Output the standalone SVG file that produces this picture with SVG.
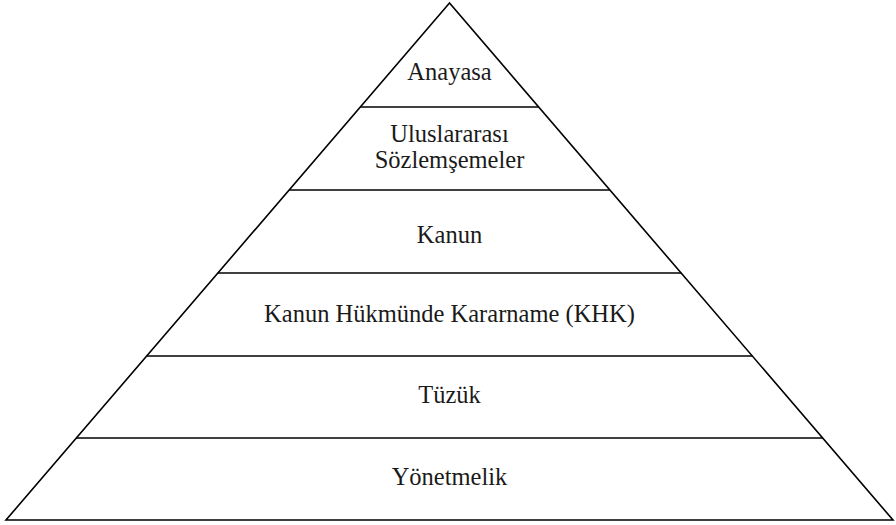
<svg xmlns="http://www.w3.org/2000/svg" width="896" height="525" viewBox="0 0 896 525">
<style>
.ln{stroke:#000;stroke-width:1.6;fill:none}
.t{font-family:'Liberation Serif','Times New Roman',serif;font-size:24.5px;fill:#1a1a1a;text-anchor:middle}
</style>
<rect width="896" height="525" fill="#fff"/>
<g id="connectors">
<polygon class="ln" points="449.5,3 6,520 893,520" stroke-linejoin="miter"/>
<line class="ln" x1="360.4" y1="107" x2="538.6" y2="107"/>
<line class="ln" x1="289.2" y1="190" x2="609.8" y2="190"/>
<line class="ln" x1="217.8" y1="273" x2="681.2" y2="273"/>
<line class="ln" x1="146.6" y1="356" x2="752.4" y2="356"/>
<line class="ln" x1="76.2" y1="438" x2="822.8" y2="438"/>
</g>
<g id="anayasa"><text class="t" x="449.5" y="80">Anayasa</text></g>
<g id="uluslararasi"><text class="t" x="449.5" y="142">Uluslararası</text><text class="t" x="449.5" y="168">Sözlemşemeler</text></g>
<g id="kanun"><text class="t" x="449.5" y="243">Kanun</text></g>
<g id="khk"><text class="t" x="449.5" y="322">Kanun Hükmünde Kararname (KHK)</text></g>
<g id="tuzuk"><text class="t" x="449.5" y="403">Tüzük</text></g>
<g id="yonetmelik"><text class="t" x="449.5" y="485">Yönetmelik</text></g>
</svg>
